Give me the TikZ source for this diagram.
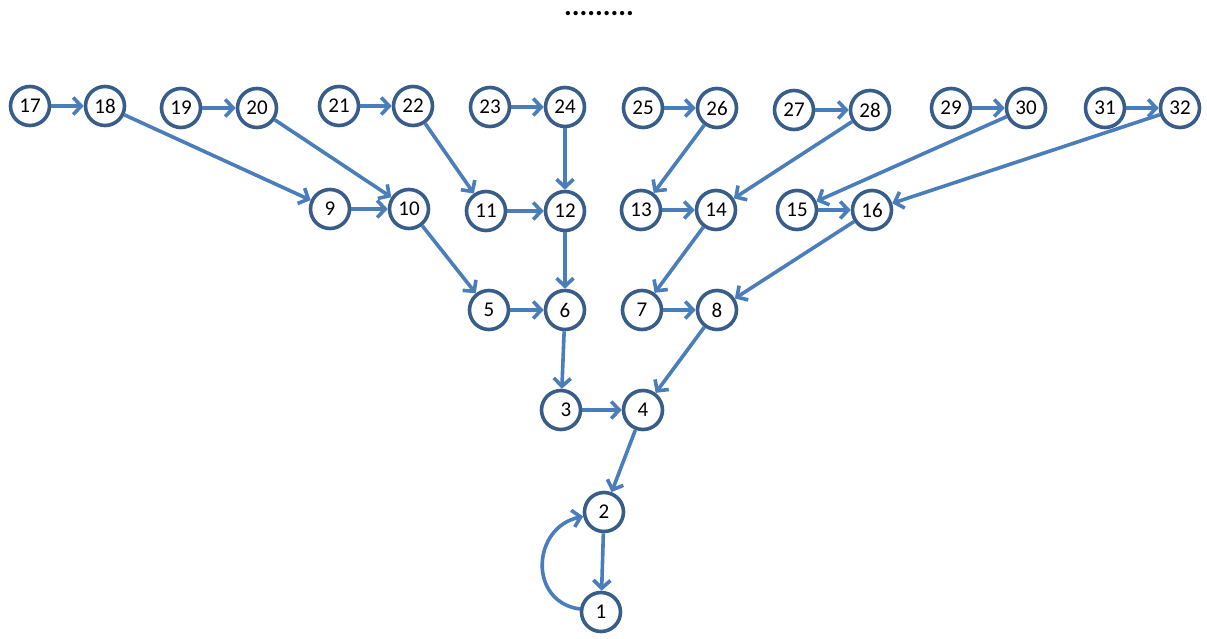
\documentclass[tikz,border=0pt]{standalone}
\usepackage{fontspec}
\setmainfont{Carlito}
\usetikzlibrary{arrows.meta}
\definecolor{ringc}{HTML}{385D8A}
\definecolor{arrc}{HTML}{4A7EBB}
\begin{document}
\begin{tikzpicture}[x=1pt,y=-1pt,
  circ/.style={circle,draw=ringc,line width=3.6pt,fill=white,minimum size=39pt,inner sep=0pt,font=\fontsize{21}{23}\selectfont},
  arr/.style={draw=arrc,line width=3.6pt,-{Straight Barb[length=8pt,width=17pt,line width=3.6pt]}}]
\useasboundingbox (0,0) rectangle (1207,639);
\node[font=\fontsize{29}{31}\selectfont\bfseries,anchor=base,inner sep=0pt] (dots) at (599,16) {.........};
% top row
\node[circ] (n17) at (30,106) {17};
\node[circ] (n18) at (105,106) {18};
\node[circ] (n19) at (181,108) {19};
\node[circ] (n20) at (257,108) {20};
\node[circ] (n21) at (339,106) {21};
\node[circ] (n22) at (413,106) {22};
\node[circ] (n23) at (490,107) {23};
\node[circ] (n24) at (565,107) {24};
\node[circ] (n25) at (643,108) {25};
\node[circ] (n26) at (717,108) {26};
\node[circ] (n27) at (794,110) {27};
\node[circ] (n28) at (870,110) {28};
\node[circ] (n29) at (951,108) {29};
\node[circ] (n30) at (1026,108) {30};
\node[circ] (n31) at (1105,108) {31};
\node[circ] (n32) at (1180,108) {32};
% second row
\node[circ] (n9) at (330,209) {9};
\node[circ] (n10) at (409,209) {10};
\node[circ] (n11) at (486,211) {11};
\node[circ] (n12) at (565,211) {12};
\node[circ] (n13) at (641,210) {13};
\node[circ] (n14) at (716,210) {14};
\node[circ] (n15) at (797,210) {15};
\node[circ] (n16) at (872,210) {16};
% third row
\node[circ] (n5) at (489,310) {5};
\node[circ] (n6) at (565,310) {6};
\node[circ] (n7) at (642,310) {7};
\node[circ] (n8) at (717,310) {8};
% fourth row
\node[circ] (n3) at (561,410) {\hspace{10pt}3};
\node[circ] (n4) at (643,410) {4};
\node[circ] (n2) at (604,512) {2};
\node[circ] (n1) at (601,612) {1};
% connectors
\foreach \a/\b in {17/18,19/20,21/22,23/24,25/26,27/28,29/30,31/32,
  18/9,20/10,22/11,24/12,26/13,28/14,30/15,32/16,
  9/10,11/12,13/14,15/16,10/5,12/6,14/7,16/8,5/6,7/8,
  6/3,8/4,3/4,4/2,2/1}
  \draw[arr] (n\a) -- (n\b);
\draw[arr] (n1) to[out=172,in=192,looseness=1.45] (n2);
\end{tikzpicture}
\end{document}
